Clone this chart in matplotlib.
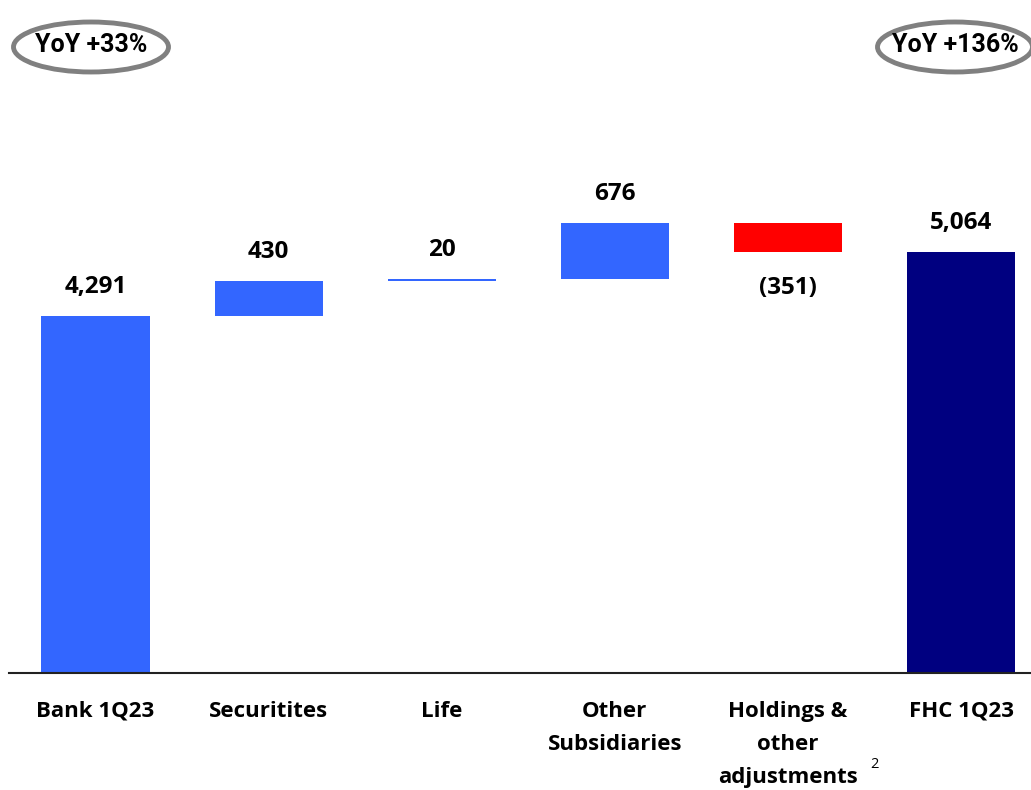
import matplotlib.pyplot as plt
from matplotlib.patches import Ellipse

categories = ["Bank 1Q23", "Securitites", "Life", "Other\nSubsidiaries",
              "Holdings &\nother\nadjustments", "FHC 1Q23"]
changes = [4291, 430, 20, 676, -351, 5064]
value_labels = ["4,291", "430", "20", "676", "(351)", "5,064"]
kinds = ["total", "step", "step", "step", "step", "total"]
yoy_labels = ["YoY +33%", "YoY +136%"]

BLUE = "#3366FF"
RED = "#FF0000"
NAVY = "#000080"

plt.rcParams["font.family"] = ["Open Sans", "DejaVu Sans"]

fig = plt.figure(figsize=(10.31, 7.9), dpi=100)
ax = fig.add_axes([9 / 1031, 1 - 673 / 790, 1 - 9 / 1031, 673 / 790])

# waterfall bottoms/heights
running = 0
bottoms, heights, colors = [], [], []
for v, k in zip(changes, kinds):
    if k == "total":
        bottoms.append(0)
        heights.append(v)
        colors.append(BLUE if running == 0 else NAVY)
        running = v
    else:
        if v >= 0:
            bottoms.append(running)
            heights.append(v)
            colors.append(BLUE)
        else:
            bottoms.append(running + v)
            heights.append(-v)
            colors.append(RED)
        running += v

x = list(range(len(categories)))
ax.bar(x, heights, bottom=bottoms, width=0.625, color=colors,
       linewidth=0)

for i, (b, h, v, lab) in enumerate(zip(bottoms, heights, changes, value_labels)):
    if v < 0:
        ax.annotate(lab, (i, b), xytext=(0, -26), textcoords="offset points",
                    ha="center", va="center", fontsize=17.5, fontweight="bold")
    else:
        ax.annotate(lab, (i, b + h), xytext=(0, 21), textcoords="offset points",
                    ha="center", va="center", fontsize=17.5, fontweight="bold")

ax.set_xlim(-0.5, 5.404)
ax.set_ylim(0, 673 / 0.0831)
ax.set_xticks(x)
ax.set_xticklabels(categories, fontsize=16, fontweight="bold",
                   linespacing=1.75, va="top")
ax.tick_params(axis="x", length=0, pad=20)
ax.set_yticks([])
for s in ["top", "right", "left"]:
    ax.spines[s].set_visible(False)
ax.spines["bottom"].set_linewidth(1.5)
ax.spines["bottom"].set_color("#222222")

# footnote marker
fig.text(874 / 1031, 1 - 765 / 790, "2", fontsize=10.5, ha="center",
         va="center")

# YoY bubbles
for cx, label in zip([91, 955], yoy_labels):
    e = Ellipse((cx / 1031, 1 - 47 / 790), 155 / 1031, 50 / 790,
                transform=fig.transFigure, fill=False, edgecolor="#808080",
                linewidth=3.5)
    fig.add_artist(e)
    fig.text(cx / 1031, 1 - 45 / 790, label, ha="center", va="center",
             fontsize=18, fontweight="bold", family="Roboto")

fig.savefig("out.png", dpi=100, facecolor="white")
